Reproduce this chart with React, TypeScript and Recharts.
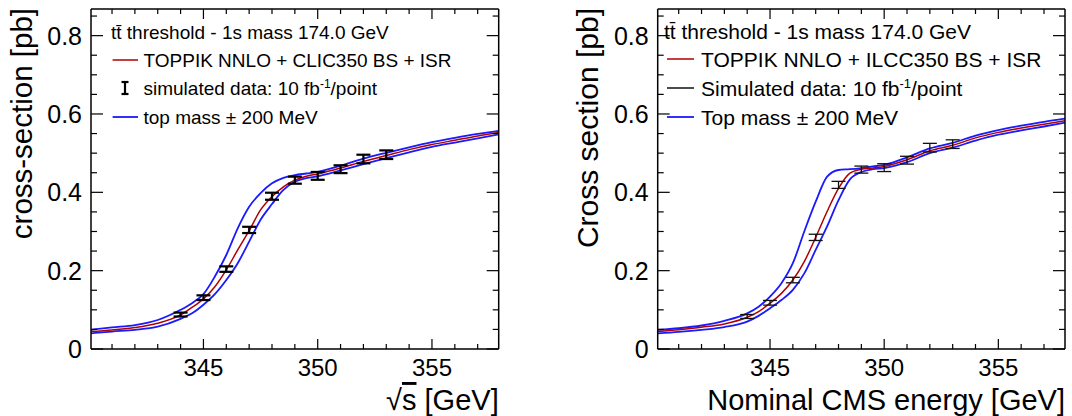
import React from 'react';
import { ComposedChart, Line, Scatter, ErrorBar, XAxis, YAxis } from 'recharts';

const curveX = [340.08, 341, 342, 343, 344, 344.5, 345, 345.5, 346, 346.5, 347, 347.5, 348, 348.5, 349, 349.5, 350, 351, 352, 353, 354, 355, 356, 357, 357.92];

// left panel: CLIC350
const leftCentral = [0.0445, 0.0487, 0.0547, 0.0657, 0.087, 0.106, 0.128, 0.159, 0.202, 0.253, 0.302, 0.355, 0.389, 0.414, 0.431, 0.441, 0.447, 0.462, 0.479, 0.494, 0.509, 0.522, 0.533, 0.544, 0.553];
const leftUpper = [0.049, 0.055, 0.061, 0.074, 0.1, 0.117, 0.14, 0.185, 0.24, 0.308, 0.363, 0.398, 0.423, 0.437, 0.444, 0.448, 0.452, 0.468, 0.486, 0.501, 0.515, 0.528, 0.539, 0.549, 0.557];
const leftLower = [0.04, 0.0445, 0.049, 0.057, 0.077, 0.091, 0.113, 0.14, 0.176, 0.219, 0.274, 0.33, 0.37, 0.406, 0.427, 0.436, 0.441, 0.456, 0.472, 0.487, 0.502, 0.516, 0.527, 0.538, 0.548];

// right panel: ILC350
const rightCentral = [0.0445, 0.049, 0.0555, 0.064, 0.081, 0.0955, 0.117, 0.142, 0.176, 0.223, 0.285, 0.351, 0.41, 0.449, 0.459, 0.462, 0.466, 0.483, 0.506, 0.52, 0.539, 0.553, 0.564, 0.574, 0.583];
const rightUpper = [0.049, 0.053, 0.06, 0.072, 0.091, 0.108, 0.134, 0.168, 0.219, 0.3, 0.376, 0.44, 0.457, 0.459, 0.462, 0.466, 0.47, 0.489, 0.512, 0.526, 0.545, 0.559, 0.57, 0.58, 0.588];
const rightLower = [0.04, 0.0437, 0.049, 0.056, 0.07, 0.0845, 0.104, 0.125, 0.151, 0.193, 0.253, 0.313, 0.38, 0.433, 0.452, 0.459, 0.462, 0.477, 0.5, 0.514, 0.532, 0.547, 0.558, 0.568, 0.578];

// simulated data points
const dataX = [344, 345, 346, 347, 348, 349, 350, 351, 352, 353];
const leftDataY = [0.088, 0.131, 0.204, 0.304, 0.39, 0.431, 0.442, 0.459, 0.485, 0.496];
const leftDataErr = [0.005, 0.006, 0.007, 0.008, 0.009, 0.009, 0.01, 0.01, 0.011, 0.011];
const rightDataY = [0.083, 0.118, 0.176, 0.285, 0.419, 0.458, 0.463, 0.482, 0.514, 0.523];
const rightDataErr = [0.005, 0.006, 0.007, 0.008, 0.009, 0.009, 0.01, 0.01, 0.011, 0.011];

const xTicks = [341, 342, 343, 344, 345, 346, 347, 348, 349, 350, 351, 352, 353, 354, 355, 356, 357];
const yTicks = [0, 0.05, 0.1, 0.15, 0.2, 0.25, 0.3, 0.35, 0.4, 0.45, 0.5, 0.55, 0.6, 0.65, 0.7, 0.75, 0.8, 0.85];
const X_DOMAIN = [340.08, 357.92];
const Y_DOMAIN = [0, 0.868];

const FONT = '"Liberation Sans", Arial, Helvetica, sans-serif';
const RED = '#b00000';
const BLUE = '#1a1aff';

const isMajorX = (v: number) => v % 5 === 0;
const isMajorY = (v: number) => Math.abs(v * 5 - Math.round(v * 5)) < 1e-6;

const BottomTick = (props: any) => {
  const { x, y, payload } = props;
  const major = isMajorX(payload.value);
  return (
    <g>
      <line x1={x} y1={y} x2={x} y2={y - (major ? 10 : 5)} stroke="#000" strokeWidth={1.2} />
      {major && (
        <text x={x} y={y + 27} textAnchor="middle" fontSize={24} fontFamily={FONT} fill="#000">
          {payload.value}
        </text>
      )}
    </g>
  );
};

const TopTick = (props: any) => {
  const { x, y, payload } = props;
  const major = isMajorX(payload.value);
  return <line x1={x} y1={y} x2={x} y2={y + (major ? 10 : 5)} stroke="#000" strokeWidth={1.2} />;
};

const LeftTick = (props: any) => {
  const { x, y, payload } = props;
  const v = payload.value;
  const major = isMajorY(v);
  return (
    <g>
      <line x1={x} y1={y} x2={x + (major ? 12 : 6)} y2={y} stroke="#000" strokeWidth={1.2} />
      {major && (
        <text x={x - 9} y={y + 9} textAnchor="end" fontSize={25} fontFamily={FONT} fill="#000">
          {v === 0 ? '0' : v.toFixed(1)}
        </text>
      )}
    </g>
  );
};

const RightTick = (props: any) => {
  const { x, y, payload } = props;
  const major = isMajorY(payload.value);
  return <line x1={x} y1={y} x2={x - (major ? 12 : 6)} y2={y} stroke="#000" strokeWidth={1.2} />;
};

interface PanelProps {
  central: number[];
  upper: number[];
  lower: number[];
  pointsY: number[];
  pointsErr: number[];
  marginLeft: number;
  marginRight: number;
  errWidth: number;
  errColor: string;
  children: React.ReactNode;
}

function Panel({ central, upper, lower, pointsY, pointsErr, marginLeft, marginRight, errWidth, errColor, children }: PanelProps) {
  const rows = curveX.map((x, i) => ({ x, central: central[i], upper: upper[i], lower: lower[i] }));
  const points = dataX.map((x, i) => ({ x, y: pointsY[i], err: pointsErr[i] }));
  const axisLine = { stroke: '#000', strokeWidth: 1.5 };

  // axes are 1px thick so they get drawn; margins account for that
  return (
    <div style={{ position: 'relative', width: 536, height: 416 }}>
      <ComposedChart width={536} height={416} data={rows} margin={{ top: 8, right: marginRight - 1, bottom: 66, left: marginLeft - 1 }}>
        <XAxis xAxisId="b" dataKey="x" type="number" domain={X_DOMAIN} allowDataOverflow ticks={xTicks} interval={0}
          height={1} tickSize={0} tickMargin={0} tickLine={false} tick={<BottomTick />} axisLine={axisLine} />
        <XAxis xAxisId="t" orientation="top" dataKey="x" type="number" domain={X_DOMAIN} allowDataOverflow ticks={xTicks} interval={0}
          height={1} tickSize={0} tickMargin={0} tickLine={false} tick={<TopTick />} axisLine={axisLine} />
        <YAxis yAxisId="l" type="number" domain={Y_DOMAIN} allowDataOverflow ticks={yTicks} interval={0}
          width={1} tickSize={0} tickMargin={0} tickLine={false} tick={<LeftTick />} axisLine={axisLine} />
        <YAxis yAxisId="r" orientation="right" type="number" domain={Y_DOMAIN} allowDataOverflow ticks={yTicks} interval={0}
          width={1} tickSize={0} tickMargin={0} tickLine={false} tick={<RightTick />} axisLine={axisLine} />
        <Line xAxisId="b" yAxisId="l" dataKey="upper" type="monotone" stroke={BLUE} strokeWidth={1.8} dot={false} isAnimationActive={false} />
        <Line xAxisId="b" yAxisId="l" dataKey="lower" type="monotone" stroke={BLUE} strokeWidth={1.8} dot={false} isAnimationActive={false} />
        <Line xAxisId="b" yAxisId="l" dataKey="central" type="monotone" stroke={RED} strokeWidth={1.5} dot={false} isAnimationActive={false} />
        <Scatter xAxisId="b" yAxisId="l" data={points} dataKey="y" shape={() => <g />} isAnimationActive={false}>
          <ErrorBar dataKey="err" direction="y" width={7} strokeWidth={errWidth} stroke={errColor} isAnimationActive={false} />
        </Scatter>
      </ComposedChart>
      <svg width={536} height={416} style={{ position: 'absolute', left: 0, top: 0, pointerEvents: 'none' }} fontFamily={FONT}>
        {children}
      </svg>
    </div>
  );
}

export default function App() {
  return (
    <div style={{ position: 'absolute', left: 0, top: 0, width: 1072, height: 416, background: '#fff', display: 'flex' }}>
      <Panel central={leftCentral} upper={leftUpper} lower={leftLower} pointsY={leftDataY} pointsErr={leftDataErr}
        marginLeft={91} marginRight={37.3} errWidth={2.2} errColor="#000">
        <text x={32} y={8} transform="rotate(-90 32 8)" textAnchor="end" fontSize={29.5}>cross-section [pb]</text>
        <text x={498.7} y={410} textAnchor="end" fontSize={29}>
          <tspan>√</tspan><tspan textDecoration="overline">s</tspan><tspan> [GeV]</tspan>
        </text>
        <g fontSize={19}>
          <text x={111} y={39}>t{'t\u0304'} threshold - 1s mass 174.0 GeV</text>
          <line x1={112.6} y1={60} x2={138} y2={60} stroke={RED} strokeWidth={1.5} />
          <text x={143.5} y={67}>TOPPIK NNLO + CLIC350 BS + ISR</text>
          <line x1={125} y1={82} x2={125} y2={94} stroke="#000" strokeWidth={2.2} />
          <line x1={121.5} y1={82} x2={128.5} y2={82} stroke="#000" strokeWidth={2.2} />
          <line x1={121.5} y1={94} x2={128.5} y2={94} stroke="#000" strokeWidth={2.2} />
          <text x={143.5} y={95}>
            <tspan>simulated data: 10 fb</tspan>
            <tspan dy={-7} fontSize={12}>-1</tspan>
            <tspan dy={7}>/point</tspan>
          </text>
          <line x1={112.6} y1={117} x2={138} y2={117} stroke={BLUE} strokeWidth={1.8} />
          <text x={143.5} y={124}>top mass ± 200 MeV</text>
        </g>
      </Panel>
      <Panel central={rightCentral} upper={rightUpper} lower={rightLower} pointsY={rightDataY} pointsErr={rightDataErr}
        marginLeft={121.7} marginRight={7} errWidth={1.3} errColor="#111">
        <text x={62} y={8} transform="rotate(-90 62 8)" textAnchor="end" fontSize={30}>Cross section [pb]</text>
        <text x={529} y={410} textAnchor="end" fontSize={29}>Nominal CMS energy [GeV]</text>
        <g fontSize={21}>
          <text x={128} y={39}>t{'t\u0304'} threshold - 1s mass 174.0 GeV</text>
          <line x1={131} y1={59} x2={158} y2={59} stroke={RED} strokeWidth={1.5} />
          <text x={165} y={66.5}>TOPPIK NNLO + ILCC350 BS + ISR</text>
          <line x1={131} y1={88} x2={158} y2={88} stroke="#111" strokeWidth={1.5} />
          <text x={165} y={95.5}>
            <tspan>Simulated data: 10 fb</tspan>
            <tspan dy={-8} fontSize={13}>-1</tspan>
            <tspan dy={8}>/point</tspan>
          </text>
          <line x1={131} y1={117} x2={158} y2={117} stroke={BLUE} strokeWidth={1.8} />
          <text x={165} y={124.5}>Top mass ± 200 MeV</text>
        </g>
      </Panel>
    </div>
  );
}
